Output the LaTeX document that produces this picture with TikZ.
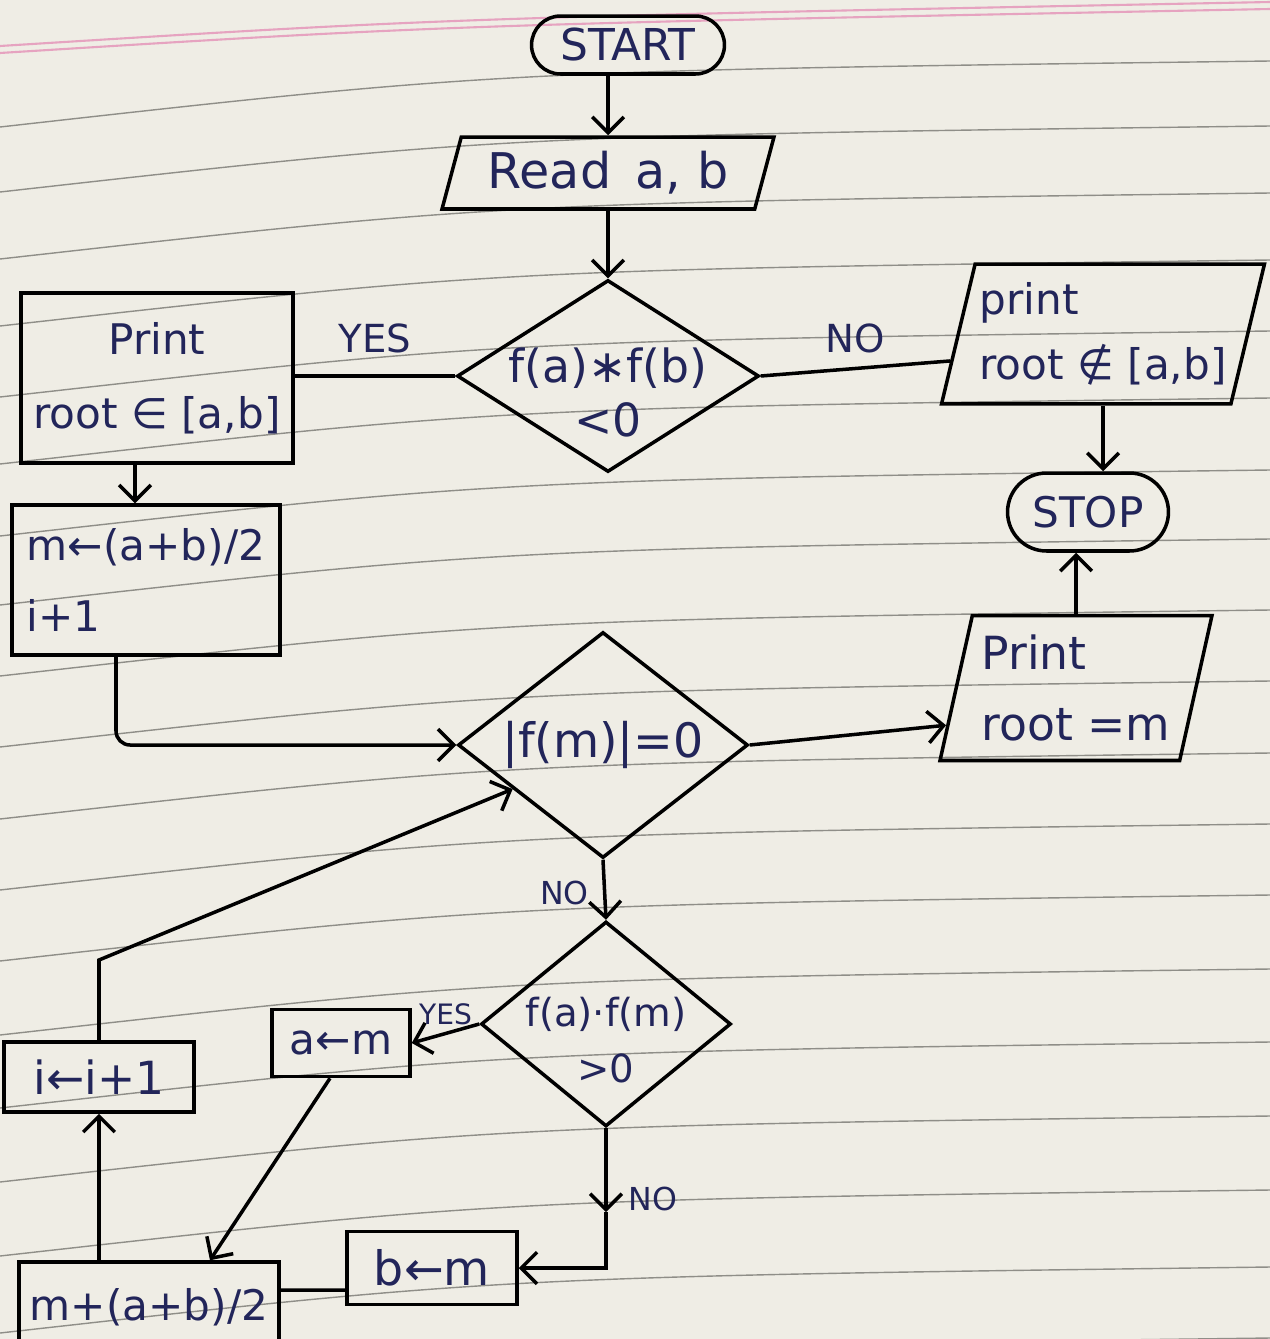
\documentclass[tikz,border=0pt]{standalone}
\usepackage{fontspec}
\setmainfont{DejaVu Sans}
\usetikzlibrary{shapes.geometric,shapes.misc,arrows.meta}
\definecolor{paper}{HTML}{EFEDE5}
\definecolor{ruling}{HTML}{8F8E88}
\definecolor{ink}{HTML}{22255A}
\definecolor{marginpink}{HTML}{E6A3C0}
\newcommand\fsz[2]{\fontsize{#1}{#2}\selectfont}
% text that takes no room (so a diamond keeps its given size), lowered by #1
\newcommand\flatlines[2]{\makebox[0pt]{\raisebox{#1}[0pt][0pt]{\begin{tabular}{@{}c@{}}#2\end{tabular}}}}

\begin{document}
\begin{tikzpicture}[x=0.02cm, y=-0.02cm,
  every node/.style={text=ink, inner sep=2pt},
  line/.style={line width=2pt, black},
  arr/.style={line, -{Straight Barb[length=9pt,width=18pt,line width=2pt]}},
  term/.style={draw, line width=2pt, rounded rectangle},
  io/.style 2 args={draw, line width=2pt, trapezium, trapezium left angle=#1,
    trapezium right angle=#2, trapezium stretches body},
  proc/.style={draw, line width=2pt, rectangle},
  decide/.style={draw, line width=2pt, diamond, inner sep=0pt},
  lab/.style={font=\fsz{22}{26}}]

\useasboundingbox (0,0) rectangle (1270,1339);
\clip (0,0) rectangle (1270,1339);

% ruled notebook page
\fill[paper] (0,0) rectangle (1270,1339);
\foreach \yr in {61,126,193,260,331,398,470,539,610,681,753,824,895,969,1042,1116,1190,1267,1338}
  \draw[ruling, line width=0.8pt] (0,\yr+66) .. controls (500,\yr+10) .. (1270,\yr);
\draw[marginpink, line width=1.2pt] (0,46) .. controls (450,18) .. (1270,2);
\draw[marginpink, line width=1.2pt] (0,53) .. controls (450,25) .. (1270,9);

% flowchart blocks
\node[term, minimum width=4cm, minimum height=1.16cm, font=\fsz{25}{30}] (start) at (628,45) {START};
\node[io={69}{111}, minimum width=6.64cm, minimum height=1.44cm, font=\fsz{28}{32}] (read) at (608,173) {Read\enspace a, b};
\node[decide, minimum width=6.04cm, minimum height=3.84cm, font=\fsz{26}{31}] (d1) at (608,376) {\flatlines{-19pt}{f(a)∗f(b)\\<0}};
\node[proc, minimum width=5.44cm, minimum height=3.4cm, align=center, font=\fsz{24}{42}] (pin) at (157,378) {Print\\root ∈ [a,b]};
\node[io={73}{107}, minimum width=6.46cm, minimum height=2.8cm, align=left, font=\fsz{24}{37}] (pout) at (1103,334) {print\\root ∉ [a,b]};
\node[term, minimum width=3.36cm, minimum height=1.56cm, font=\fsz{24}{28}] (stop) at (1088,512) {STOP};
\node[proc, minimum width=5.36cm, minimum height=3.0cm, align=left, font=\fsz{24}{40}] (mbox) at (146,580) {m←(a+b)/2\\i+1};
\node[io={74}{106}, minimum width=5.44cm, minimum height=2.9cm, align=left, font=\fsz{26}{40}] (pm) at (1076,688) {Print\\root =m};
\node[decide, minimum width=5.8cm, minimum height=4.52cm, font=\fsz{27}{32}] (d2) at (603,745) {\flatlines{-7pt}{|f(m)|=0}};
\node[decide, minimum width=5.0cm, minimum height=4.1cm, font=\fsz{22}{32}] (d3) at (606,1024) {\flatlines{-16pt}{f(a)·f(m)\\>0}};
\node[proc, minimum width=2.76cm, minimum height=1.34cm, font=\fsz{24}{28}] (abox) at (341,1043) {a←m};
\node[proc, minimum width=3.8cm, minimum height=1.4cm, font=\fsz{26}{30}] (ibox) at (99,1077) {i←i+1};
\node[proc, minimum width=3.4cm, minimum height=1.46cm, font=\fsz{27}{30}] (bbox) at (432,1268) {b←m};
\node[proc, minimum width=5.2cm, minimum height=1.8cm, font=\fsz{24}{28}] (mbox2) at (149,1307) {m+(a+b)/2};

% bend points
\coordinate (ikink) at (99,960);
\coordinate (nomid) at (606,1212);
\coordinate (nokink) at (606,1268);

% connectors
\draw[arr] (read.north |- start.south) -- (read.north);
\draw[arr] (d1.north |- read.south) -- (d1.north);
\draw[line] (d1.west) -- (pin.east |- d1.west) node[midway, above=10pt, lab] {YES};
\draw[line] (d1.east) -- (pout.190) node[midway, above=6pt, lab] {NO};
\draw[arr] (pout.south) -- (pout.south |- stop.north);
\draw[arr] (pm.north) -- (pm.north |- stop.south);
\draw[arr] ([xshift=-0.44cm]pin.south) -- ([xshift=-0.44cm]pin.south |- mbox.north);
\draw[arr, rounded corners=8pt] ([xshift=-0.6cm]mbox.south) |- (d2.west);
\draw[arr] (d2.east) -- (pm.196);
\draw[arr] (d2.south) -- (d3.north) node[pos=0.55, left=6pt, font=\fsz{18}{22}] {NO};
\draw[arr] (d3.west) -- (abox.east) node[midway, above=2pt, font=\fsz{16}{20}] {YES};
\draw[arr] (d3.south) -- (nomid) node[pos=0.85, right=10pt, font=\fsz{18}{22}] {NO};
\draw[arr] (nomid) -- (nokink) -- (bbox.east);
\draw[arr] ([xshift=-0.22cm]abox.south) -- ([xshift=1.22cm]mbox2.north);
\draw[arr] (ibox.south |- mbox2.north) -- (ibox.south);
\draw[arr] (ibox.north) -- (ikink) -- (d2.206);
\draw[line] ([yshift=0.34cm]mbox2.east) -- ([yshift=-0.44cm]bbox.west);

\end{tikzpicture}
\end{document}
